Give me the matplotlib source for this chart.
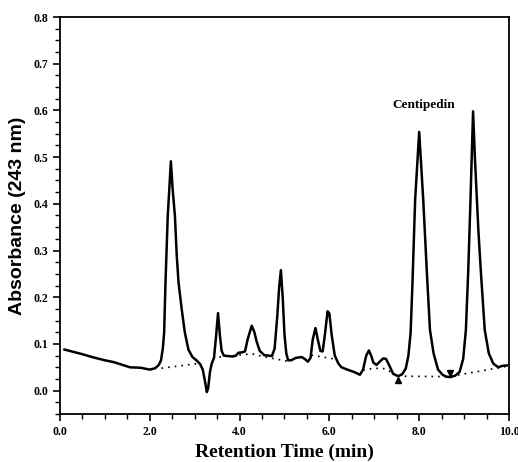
import matplotlib
matplotlib.use("Agg")
import matplotlib.pyplot as plt
from matplotlib.ticker import MultipleLocator, FormatStrFormatter

# Chromatogram trace (time in min, absorbance at 243 nm)
time_min = [0.10, 0.30, 0.50, 0.75, 1.00, 1.20, 1.40, 1.56, 1.80, 2.00, 2.12, 2.20,
            2.25, 2.29, 2.32, 2.35, 2.40, 2.44, 2.47, 2.51, 2.56, 2.60, 2.64, 2.71,
            2.78, 2.86, 2.95, 3.05, 3.12, 3.18, 3.23, 3.27, 3.30, 3.34, 3.38, 3.43,
            3.47, 3.52, 3.56, 3.60, 3.65, 3.75, 3.85, 3.92, 3.97, 4.05, 4.12, 4.18,
            4.27, 4.33, 4.38, 4.45, 4.55, 4.65, 4.72, 4.78, 4.84, 4.88, 4.92, 4.96,
            5.00, 5.04, 5.08, 5.15, 5.25, 5.38, 5.45, 5.52, 5.58, 5.63, 5.69, 5.74,
            5.80, 5.85, 5.90, 5.96, 6.00, 6.05, 6.12, 6.20, 6.27, 6.40, 6.55, 6.68,
            6.75, 6.82, 6.88, 6.93, 6.98, 7.05, 7.12, 7.20, 7.26, 7.33, 7.42, 7.53,
            7.62, 7.70, 7.76, 7.81, 7.85, 7.91, 7.96, 8.00, 8.04, 8.09, 8.17, 8.24,
            8.32, 8.42, 8.52, 8.60, 8.69, 8.80, 8.90, 8.98, 9.04, 9.09, 9.14, 9.17,
            9.20, 9.24, 9.28, 9.32, 9.38, 9.46, 9.55, 9.65, 9.76, 9.85, 9.95]
absorbance = [0.088, 0.083, 0.078, 0.071, 0.065, 0.061, 0.055, 0.050, 0.049, 0.045, 0.048, 0.055,
              0.065, 0.090, 0.125, 0.232, 0.374, 0.440, 0.491, 0.430, 0.374, 0.290, 0.232, 0.175,
              0.125, 0.088, 0.072, 0.064, 0.057, 0.045, 0.020, -0.003, 0.005, 0.040, 0.058, 0.070,
              0.110, 0.166, 0.120, 0.085, 0.075, 0.074, 0.073, 0.075, 0.081, 0.082, 0.084, 0.110,
              0.139, 0.125, 0.105, 0.085, 0.076, 0.075, 0.074, 0.090, 0.160, 0.220, 0.258, 0.200,
              0.120, 0.080, 0.065, 0.065, 0.070, 0.072, 0.068, 0.062, 0.070, 0.110, 0.134, 0.110,
              0.085, 0.084, 0.120, 0.170, 0.165, 0.120, 0.075, 0.058, 0.050, 0.045, 0.040, 0.034,
              0.045, 0.075, 0.086, 0.075, 0.060, 0.055, 0.062, 0.069, 0.068, 0.055, 0.036, 0.031,
              0.035, 0.047, 0.075, 0.125, 0.230, 0.409, 0.490, 0.554, 0.490, 0.409, 0.255, 0.130,
              0.080, 0.045, 0.034, 0.030, 0.029, 0.032, 0.040, 0.068, 0.130, 0.250, 0.400, 0.500,
              0.598, 0.500, 0.420, 0.340, 0.245, 0.130, 0.080, 0.058, 0.050, 0.053, 0.054]

# Dotted integration baselines (segments)
baseline_segments = [
    ([2.26, 3.07], [0.048, 0.058]),
    ([3.55, 4.27, 4.44, 4.57, 4.90, 5.12], [0.072, 0.079, 0.075, 0.072, 0.066, 0.062]),
    ([5.60, 6.10], [0.076, 0.068]),
    ([6.75, 7.00, 7.25, 7.50], [0.044, 0.048, 0.047, 0.032]),
    ([7.53, 8.66, 9.95], [0.031, 0.030, 0.052]),
]

# Peak markers
marker_up = (7.53, 0.022)
marker_down = (8.69, 0.037)

peak_label = "Centipedin"
peak_label_pos = (8.1, 0.612)

xticks = [0.0, 2.0, 4.0, 6.0, 8.0, 10.0]
yticks = [0.0, 0.1, 0.2, 0.3, 0.4, 0.5, 0.6, 0.7, 0.8]

fig = plt.figure(figsize=(5.18, 4.62), dpi=100)
ax = fig.add_axes([0.1158, 0.1039, 0.9826 - 0.1158, 0.9632 - 0.1039])

ax.plot(time_min, absorbance, color="black", lw=1.8, solid_joinstyle="round")
for xs, ys in baseline_segments:
    ax.plot(xs, ys, color="black", lw=1.2, ls=(0, (1, 3)))
ax.plot(*marker_up, marker="^", color="black", ms=5)
ax.plot(*marker_down, marker="v", color="black", ms=5)

ax.text(peak_label_pos[0], peak_label_pos[1], peak_label, ha="center", va="center",
        fontsize=9.5, fontweight="bold", family="Liberation Serif")

ax.set_xlim(0, 10)
ax.set_ylim(-0.05, 0.8)
ax.set_xticks(xticks)
ax.set_yticks(yticks)
ax.xaxis.set_minor_locator(MultipleLocator(0.5))
ax.yaxis.set_minor_locator(MultipleLocator(0.025))
ax.xaxis.set_major_formatter(FormatStrFormatter("%.1f"))
ax.yaxis.set_major_formatter(FormatStrFormatter("%.1f"))
ax.tick_params(which="major", direction="out", length=5, width=1.2)
ax.tick_params(which="minor", direction="out", length=3.5, width=1.0)
for lbl in ax.get_xticklabels() + ax.get_yticklabels():
    lbl.set_fontfamily("Liberation Serif")
    lbl.set_fontweight("bold")
    lbl.set_fontsize(8.5)
for sp in ax.spines.values():
    sp.set_linewidth(1.3)

ax.set_xlabel("Retention Time (min)", fontsize=14, fontweight="bold",
              family="Liberation Serif", labelpad=4)
ax.set_ylabel("Absorbance (243 nm)", fontsize=14, fontweight="bold",
              family="Liberation Sans", labelpad=5)

fig.savefig("out.png", dpi=100)
